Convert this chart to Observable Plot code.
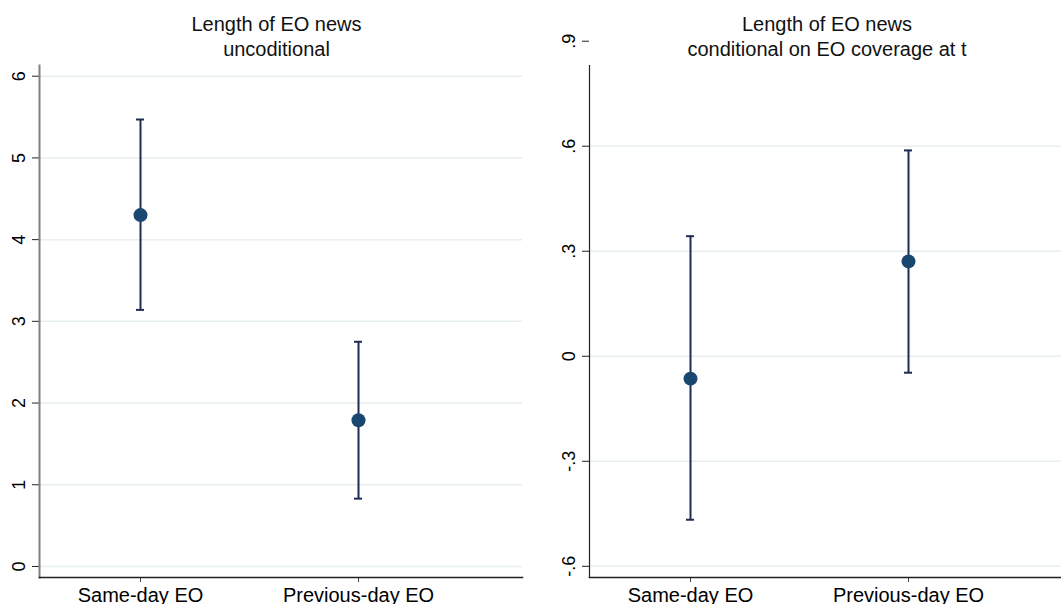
<!DOCTYPE html>
<html><head><meta charset="utf-8">
<script src="https://cdn.jsdelivr.net/npm/d3@7"></script>
<script src="https://cdn.jsdelivr.net/npm/@observablehq/plot@0.6"></script>
<style>
html,body{margin:0;padding:0;background:#fff;overflow:hidden;width:1061px;height:604px;}
#wrap{position:relative;width:1061px;height:604px;overflow:hidden;}
#left{position:absolute;left:0;top:0;width:530px;height:604px;}
#right{position:absolute;left:530px;top:0;width:542px;height:604px;}
#wrap svg{max-width:none !important;display:block;}
</style></head><body><div id="wrap"><div id="left"></div><div id="right"></div></div>
<script>
const categories = ["Same-day EO", "Previous-day EO"];
const titleLeft = ["Length of EO news", "uncoditional"];
const titleRight = ["Length of EO news", "conditional on EO coverage at t"];
const estLeft = [4.30, 1.79];
const loLeft = [3.14, 0.83];
const hiLeft = [5.47, 2.75];
const estRight = [-0.064, 0.271];
const loRight = [-0.467, -0.047];
const hiRight = [0.343, 0.588];
const ticksLeft = [0, 1, 2, 3, 4, 5, 6];
const ticksRight = [-0.6, -0.3, 0, 0.3, 0.6, 0.9];
const gridRight = [-0.6, -0.3, 0, 0.3, 0.6];

const fmt = d => d === 0 ? "0" : String(d).replace("0.", ".");
const FONT = "'Liberation Sans', Arial, Helvetica, sans-serif";

function panel({est, lo, hi, yDomain, ticks, grid, title, width, marginLeft, marginRight, yLineColor, yLineWidth, titleDx}) {
  const rows = categories.map((c, i) => ({cat: c, est: est[i], lo: lo[i], hi: hi[i]}));
  const barColor = "#1f2c52";
  return Plot.plot({
    width, height: 604, marginLeft, marginRight, marginTop: 65, marginBottom: 27,
    style: {fontFamily: FONT, fontSize: "20px", color: "#000", background: "#fff", overflow: "visible", maxWidth: "none"},
    x: {type: "point", domain: categories, padding: 0.606, align: 0.3816},
    y: {domain: yDomain},
    marks: [
      Plot.gridY(grid, {stroke: "#e6eef0", strokeOpacity: 1, strokeWidth: 1.5}),
      Plot.axisX({tickSize: 5, tickPadding: 5, fontSize: 20, label: null, stroke: "#444"}),
      Plot.axisY(ticks, {tickSize: 7, tickPadding: 8, tickRotate: -90, textAnchor: "middle", lineAnchor: "bottom", fontSize: 18, label: null, tickFormat: fmt, stroke: "#222"}),
      Plot.frame({anchor: "left", stroke: yLineColor, strokeWidth: yLineWidth}),
      Plot.frame({anchor: "bottom", stroke: "#222", strokeWidth: 1.5}),
      Plot.ruleX(rows, {x: "cat", y1: "lo", y2: "hi", stroke: barColor, strokeWidth: 2}),
      Plot.ruleY(rows, {x1: "cat", x2: "cat", y: "hi", insetLeft: -4, insetRight: -4, stroke: barColor, strokeWidth: 2}),
      Plot.ruleY(rows, {x1: "cat", x2: "cat", y: "lo", insetLeft: -4, insetRight: -4, stroke: barColor, strokeWidth: 2}),
      Plot.dot(rows, {x: "cat", y: "est", r: 7, fill: "#1a476f", stroke: "none"}),
      Plot.text([title.join("\n")], {frameAnchor: "top", dy: -10, dx: titleDx, lineAnchor: "bottom", lineHeight: 1.25, fontSize: 20, fill: "#111"})
    ]
  });
}

document.getElementById("left").append(panel({
  est: estLeft, lo: loLeft, hi: hiLeft, yDomain: [-0.135, 6.131], ticks: ticksLeft, grid: ticksLeft,
  title: titleLeft, width: 530, marginLeft: 39, marginRight: 8, yLineColor: "#808080", yLineWidth: 2, titleDx: -4.5
}));
document.getElementById("right").append(panel({
  est: estRight, lo: loRight, hi: hiRight, yDomain: [-0.632, 0.8306], ticks: ticksRight, grid: gridRight,
  title: titleRight, width: 542, marginLeft: 59, marginRight: 0, yLineColor: "#222", yLineWidth: 1.2, titleDx: -4
}));
</script></body></html>
